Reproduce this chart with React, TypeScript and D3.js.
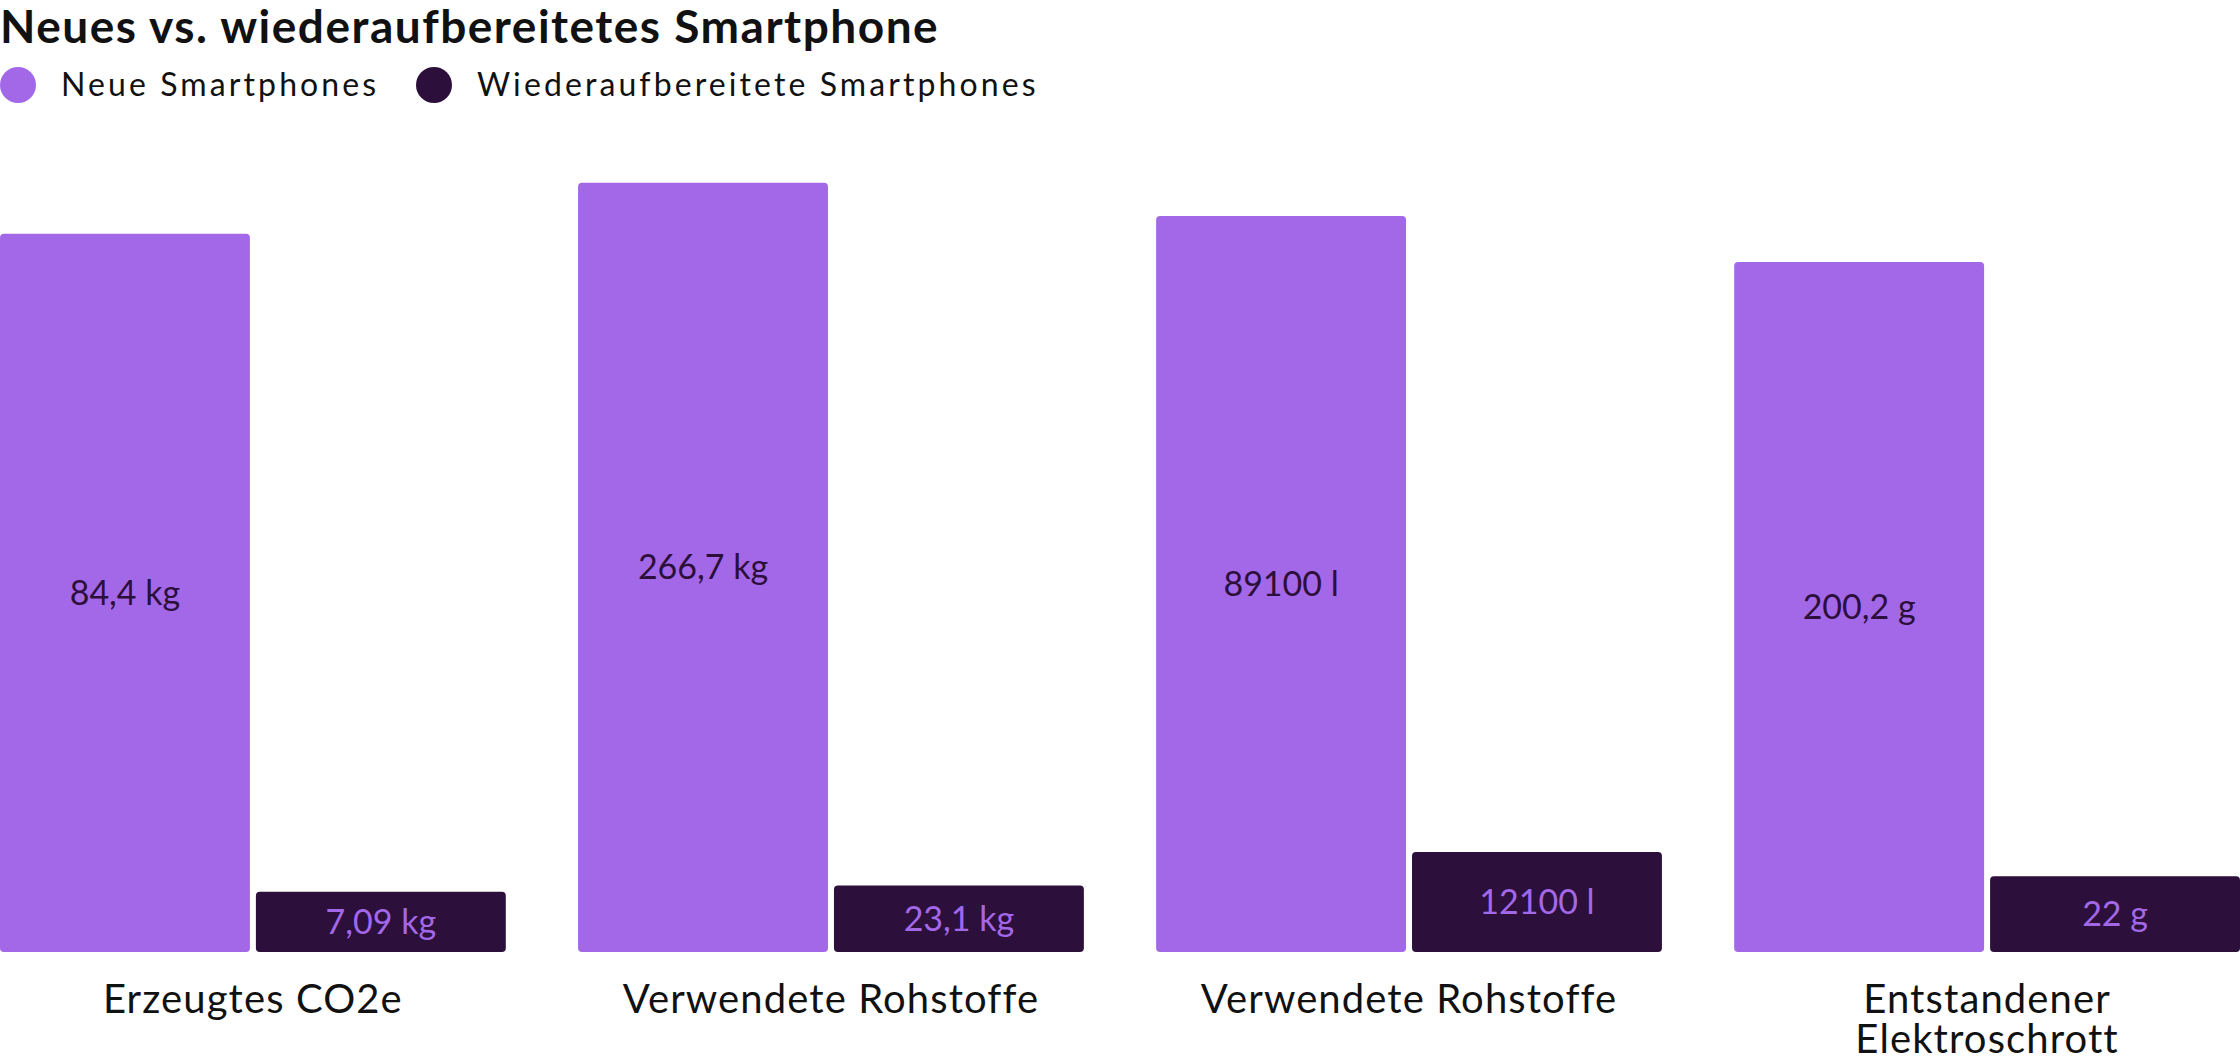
import React from "react";
import * as d3 from "d3";

const title = "Neues vs. wiederaufbereitetes Smartphone";
const seriesNames = ["Neue Smartphones", "Wiederaufbereitete Smartphones"];
const categories = [
  "Erzeugtes CO2e",
  "Verwendete Rohstoffe",
  "Verwendete Rohstoffe ",
  "Entstandener Elektroschrott",
];
const categoryLines = [
  ["Erzeugtes CO2e"],
  ["Verwendete Rohstoffe"],
  ["Verwendete Rohstoffe"],
  ["Entstandener", "Elektroschrott"],
];
const neueValues = [84.4, 266.7, 89100, 200.2];
const refurbValues = [7.09, 23.1, 12100, 22];
const neueLabels = ["84,4 kg", "266,7 kg", "89100 l", "200,2 g"];
const refurbLabels = ["7,09 kg", "23,1 kg", "12100 l", "22 g"];
// each category is drawn on its own value scale (0 .. max)
const categoryScaleMax = [94.0, 277.4, 96850, 232.1];

const W = 2240;
const H = 1057;
const PURPLE = "#a368e8";
const DARK = "#2c0f3a";
const FONT = "Lato, 'Noto Sans', sans-serif";

export default function App() {
  const baseY = 952;
  const topY = 152;
  const x0 = d3.scaleBand<string>().domain(categories).range([0, W]).paddingInner(0.125).paddingOuter(0);
  const x1 = d3.scaleBand<string>().domain(seriesNames).range([0, x0.bandwidth()]).paddingInner(0.0234).paddingOuter(0);

  return (
    <svg width={W} height={H} style={{ position: "absolute", left: 0, top: 0, background: "#fff" }} fontFamily={FONT}>
      <text x={0} y={43} fontSize={46} fontWeight={700} fill="#111" letterSpacing={1.5}>{title}</text>
      {seriesNames.map((s, i) => {
        const lx = i === 0 ? 0 : 416;
        return (
          <g key={s} transform={`translate(${lx},0)`}>
            <circle cx={18} cy={85} r={18} fill={i === 0 ? PURPLE : DARK} />
            <text x={61} y={96} fontSize={32} fill="#111" letterSpacing={3.1}>{s}</text>
          </g>
        );
      })}
      {categories.map((c, i) => {
        const y = d3.scaleLinear().domain([0, categoryScaleMax[i]]).range([baseY, topY]);
        const gx = x0(c)!;
        const vals = [neueValues[i], refurbValues[i]];
        const labs = [neueLabels[i], refurbLabels[i]];
        return (
          <g key={c} transform={`translate(${gx},0)`}>
            {seriesNames.map((s, j) => {
              const bx = x1(s)!;
              const by = y(vals[j]);
              const bh = baseY - by;
              return (
                <g key={s}>
                  <rect x={bx} y={by} width={x1.bandwidth()} height={bh} rx={4} ry={4} fill={j === 0 ? PURPLE : DARK} />
                  <text x={bx + x1.bandwidth() / 2} y={by + bh / 2 + 12} textAnchor="middle" fontSize={34} fill={j === 0 ? DARK : PURPLE}>{labs[j]}</text>
                </g>
              );
            })}
            <text textAnchor="middle" fontSize={40} fill="#111" letterSpacing={1.1}>
              {categoryLines[i].map((ln, k) => (
                <tspan key={k} x={x0.bandwidth() / 2} y={1013 + k * 40}>{ln}</tspan>
              ))}
            </text>
          </g>
        );
      })}
    </svg>
  );
}
